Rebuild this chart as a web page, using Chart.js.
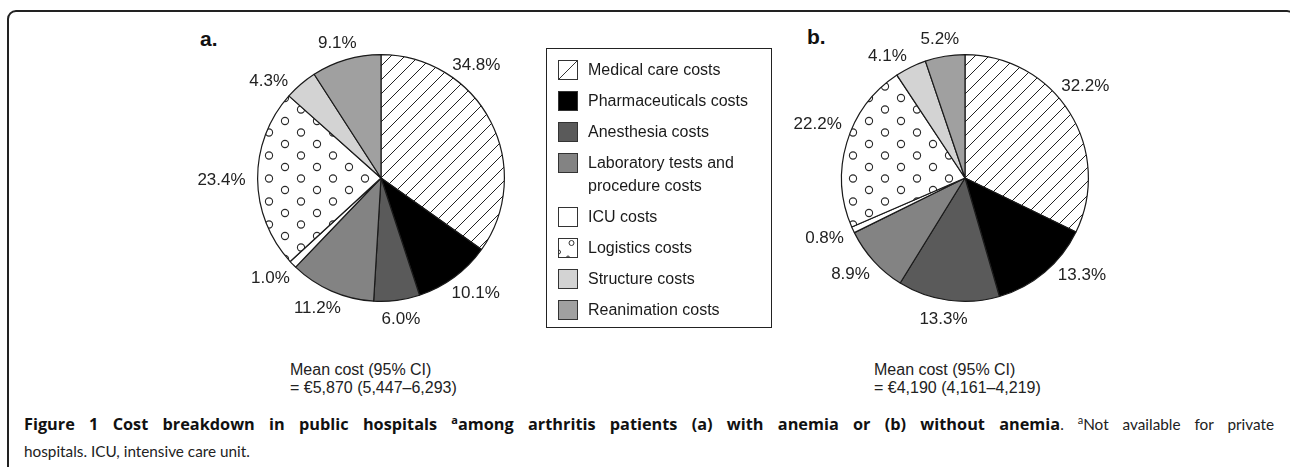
<!DOCTYPE html>
<html><head><meta charset="utf-8">
<script src="https://cdn.jsdelivr.net/npm/chart.js@4.4.1/dist/chart.umd.min.js"></script>
<style>
html,body{margin:0;padding:0;background:#fff;width:1290px;height:467px;overflow:hidden;font-family:"Liberation Sans",Arial,sans-serif;color:#222;}
#frame{position:absolute;left:7px;top:10px;width:1289px;height:540px;border:2px solid #222;border-radius:9px;box-sizing:border-box;}
canvas.pie{position:absolute;top:0;}
#ca{left:181px;} #cb{left:765px;}
.panel{position:absolute;font-weight:bold;font-size:21px;line-height:24px;color:#111;}
#legend{position:absolute;left:546px;top:48px;width:226px;height:280px;border:1.5px solid #222;box-sizing:border-box;padding-top:9px;}
.item{position:relative;padding-left:41px;font-size:16px;line-height:23px;margin-bottom:8px;color:#1a1a1a;}
.item canvas{position:absolute;left:11px;top:2px;}
.mean{position:absolute;font-size:16px;line-height:18px;top:361px;color:#222;}
.cap{position:absolute;left:24px;width:1250px;font-family:Lato,"Open Sans",sans-serif;font-size:15.3px;line-height:27px;color:#222;white-space:nowrap;}
#cap1{top:411px;text-align:justify;text-align-last:justify;white-space:normal;}
#cap2{top:438px;}
.cap b{font-family:"Open Sans",Lato,sans-serif;font-weight:bold;color:#111;font-size:16.3px;}
sup{font-size:11px;line-height:0;vertical-align:6px;}
</style></head>
<body>
<div id="frame"></div>
<div class="panel" style="left:200px;top:27px;">a.</div>
<div class="panel" style="left:807px;top:25px;">b.</div>
<canvas id="ca" class="pie" width="400" height="360"></canvas>
<canvas id="cb" class="pie" width="400" height="360"></canvas>
<div id="legend"></div>
<div class="mean" style="left:290px;">Mean cost (95% CI)<br>= €5,870 (5,447–6,293)</div>
<div class="mean" style="left:874px;">Mean cost (95% CI)<br>= €4,190 (4,161–4,219)</div>
<div id="cap1" class="cap"><b>Figure 1 Cost breakdown in public hospitals <sup>a</sup>among arthritis patients (a) with anemia or (b) without anemia</b>. <sup>a</sup>Not available for private</div>
<div id="cap2" class="cap">hospitals. ICU, intensive care unit.</div>
<script>
// ---- data ----
const categories = ["Medical care costs","Pharmaceuticals costs","Anesthesia costs","Laboratory tests and procedure costs","ICU costs","Logistics costs","Structure costs","Reanimation costs"];
const legendLabels = ["Medical care costs","Pharmaceuticals costs","Anesthesia costs","Laboratory tests and<br>procedure costs","ICU costs","Logistics costs","Structure costs","Reanimation costs"];
const withAnemia = [34.8, 10.1, 6.0, 11.2, 1.0, 23.4, 4.3, 9.1];
const withoutAnemia = [32.2, 13.3, 13.3, 8.9, 0.8, 22.2, 4.1, 5.2];

// ---- styles ----
function hatchPattern(){
  const c=document.createElement('canvas'); c.width=14; c.height=14;
  const g=c.getContext('2d'); g.fillStyle='#fff'; g.fillRect(0,0,14,14);
  g.strokeStyle='#222'; g.lineWidth=1;
  g.beginPath(); g.moveTo(-2,16); g.lineTo(16,-2); g.moveTo(-2,2); g.lineTo(2,-2); g.moveTo(12,16); g.lineTo(16,12); g.stroke();
  return g.createPattern(c,'repeat');
}
function circlePattern(){
  const c=document.createElement('canvas'); c.width=32; c.height=23;
  const g=c.getContext('2d'); g.fillStyle='#fff'; g.fillRect(0,0,32,23);
  g.strokeStyle='#2a2a2a'; g.lineWidth=1.1;
  [[8,6],[24,17.5]].forEach(p=>{g.beginPath(); g.arc(p[0],p[1],3.6,0,Math.PI*2); g.stroke();});
  return g.createPattern(c,'repeat');
}
const fills=[null,'#000000','#5a5a5a','#838383','#ffffff',null,'#d3d3d3','#a0a0a0'];

const outLabels={
  id:'outLabels',
  afterDatasetsDraw(chart,args,opts){
    const ctx=chart.ctx, meta=chart.getDatasetMeta(0), vals=chart.data.datasets[0].data;
    ctx.save(); ctx.font='17px "Liberation Sans", Arial, sans-serif'; ctx.fillStyle='#222';
    ctx.textAlign='center'; ctx.textBaseline='middle';
    meta.data.forEach((arc,i)=>{
      const p=arc.getProps(['x','y','startAngle','endAngle','outerRadius'],true);
      const a=(p.startAngle+p.endAngle)/2+((opts.nudge||{})[i]||0)*Math.PI/180;
      const txt=vals[i].toFixed(1)+'%';
      const w=ctx.measureText(txt).width, h=12;
      const R=p.outerRadius+12;
      ctx.fillText(txt,p.x+(R+w/2)*Math.cos(a), p.y+(R+h/2)*Math.sin(a)+1);
    });
    ctx.restore();
  }
};

function makePie(id,values,nudge){
  const ctx=document.getElementById(id).getContext('2d');
  const bg=fills.map((f,i)=> i===0?hatchPattern(): i===5?circlePattern(): f);
  return new Chart(ctx,{
    type:'pie',
    data:{labels:categories,datasets:[{data:values,backgroundColor:bg,borderColor:'#1a1a1a',borderWidth:1.2,hoverOffset:0}]},
    options:{responsive:false,animation:false,events:[],
      layout:{padding:{left:76,right:76,top:54,bottom:58}},
      plugins:{legend:{display:false},tooltip:{enabled:false},outLabels:{nudge:nudge}}},
    plugins:[outLabels]
  });
}
makePie('ca',withAnemia,{0:-26,6:-6});
makePie('cb',withoutAnemia,{0:-9,1:-7,5:6,6:-4});

// legend
const lg=document.getElementById('legend');
legendLabels.forEach((lab,i)=>{
  const d=document.createElement('div'); d.className='item';
  const c=document.createElement('canvas'); c.width=20; c.height=20;
  const g=c.getContext('2d');
  g.fillStyle= (i===0||i===5)?'#fff':fills[i]; g.fillRect(0.5,0.5,19,19);
  g.strokeStyle='#333'; g.lineWidth=1;
  if(i===0){g.beginPath(); g.moveTo(1,19); g.lineTo(19,1); g.stroke();}
  if(i===5){g.beginPath(); g.arc(13.5,5,2.5,0,Math.PI*2); g.stroke(); g.beginPath(); g.arc(0.5,14,2,-Math.PI/2,Math.PI/2); g.stroke(); g.beginPath(); g.arc(10,19.5,1.5,Math.PI,0); g.stroke();}
  g.strokeRect(0.5,0.5,19,19);
  d.appendChild(c);
  const s=document.createElement('span'); s.innerHTML=lab; d.appendChild(s);
  lg.appendChild(d);
});
</script>
</body></html>
